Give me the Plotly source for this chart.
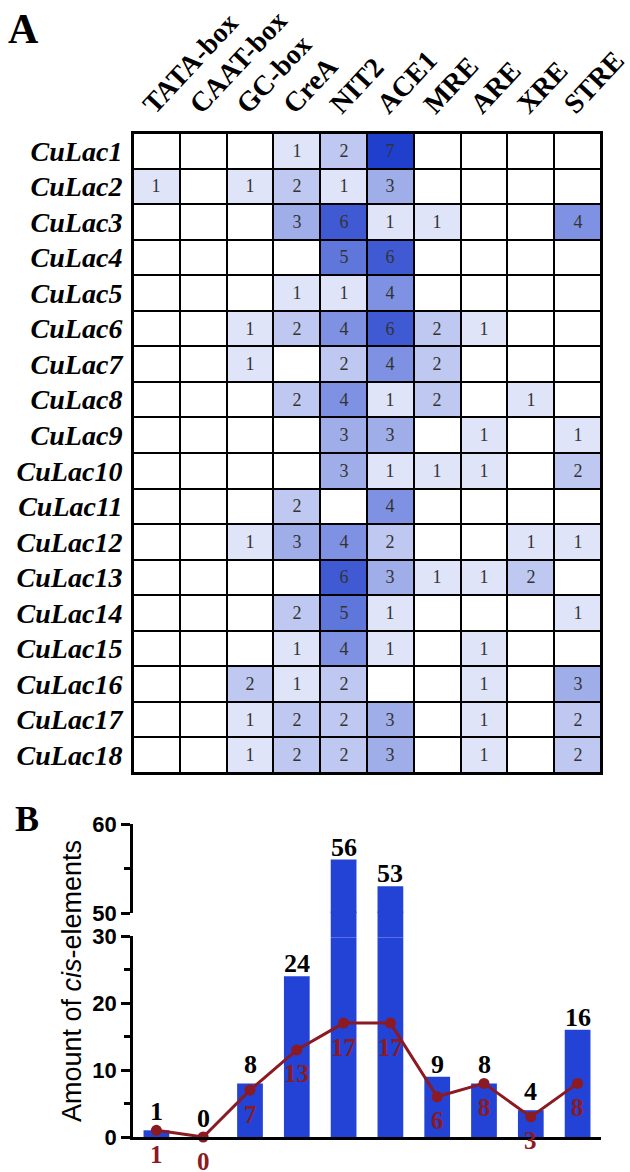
import plotly.graph_objects as go

elements = ["TATA-box", "CAAT-box", "GC-box", "CreA", "NIT2", "ACE1", "MRE", "ARE", "XRE", "STRE"]
genes = [f"CuLac{i}" for i in range(1, 19)]

counts = [
    [0, 0, 0, 1, 2, 7, 0, 0, 0, 0],
    [1, 0, 1, 2, 1, 3, 0, 0, 0, 0],
    [0, 0, 0, 3, 6, 1, 1, 0, 0, 4],
    [0, 0, 0, 0, 5, 6, 0, 0, 0, 0],
    [0, 0, 0, 1, 1, 4, 0, 0, 0, 0],
    [0, 0, 1, 2, 4, 6, 2, 1, 0, 0],
    [0, 0, 1, 0, 2, 4, 2, 0, 0, 0],
    [0, 0, 0, 2, 4, 1, 2, 0, 1, 0],
    [0, 0, 0, 0, 3, 3, 0, 1, 0, 1],
    [0, 0, 0, 0, 3, 1, 1, 1, 0, 2],
    [0, 0, 0, 2, 0, 4, 0, 0, 0, 0],
    [0, 0, 1, 3, 4, 2, 0, 0, 1, 1],
    [0, 0, 0, 0, 6, 3, 1, 1, 2, 0],
    [0, 0, 0, 2, 5, 1, 0, 0, 0, 1],
    [0, 0, 0, 1, 4, 1, 0, 1, 0, 0],
    [0, 0, 2, 1, 2, 0, 0, 1, 0, 3],
    [0, 0, 1, 2, 2, 3, 0, 1, 0, 2],
    [0, 0, 1, 2, 2, 3, 0, 1, 0, 2],
]

total_elements = [1, 0, 8, 24, 56, 53, 9, 8, 4, 16]
genes_with_element = [1, 0, 7, 13, 17, 17, 6, 8, 3, 8]

W, H = 630, 1172
BAR_BLUE = "#2343d6"
DARK_RED = "#8b1a22"
SERIF = "Liberation Serif"
SANS = "Liberation Sans"

def px_x(p):
    return p / W

def px_y(p):
    return 1 - p / H

fig = go.Figure()

cell_text = [[("" if v == 0 else str(v)) for v in row] for row in counts]
fig.add_trace(go.Heatmap(
    z=counts, x=elements, y=genes, text=cell_text, texttemplate="%{text}",
    textfont=dict(family=SERIF, size=18, color="#333333"),
    colorscale=[[0, "#ffffff"], [1, "#1f3fcc"]], zmin=0, zmax=7,
    showscale=False, xgap=2, ygap=2, xaxis="x", yaxis="y", hoverinfo="skip",
))

xs = list(range(len(elements)))
for ya in ["y2", "y3", "y4"]:
    fig.add_trace(go.Bar(
        x=xs, y=total_elements, width=0.55, marker=dict(color=BAR_BLUE, line=dict(width=0)),
        xaxis="x2", yaxis=ya, showlegend=False, hoverinfo="skip",
    ))

fig.add_trace(go.Scatter(
    x=xs, y=genes_with_element, mode="lines+markers",
    line=dict(color=DARK_RED, width=3), marker=dict(color=DARK_RED, size=11),
    xaxis="x2", yaxis="y2", cliponaxis=False, showlegend=False, hoverinfo="skip",
))

annotations = []
for i, (v, g) in enumerate(zip(total_elements, genes_with_element)):
    ya = "y4" if v > 30 else "y2"
    shift = 6 if g >= v - 1 else 0
    annotations.append(dict(
        x=i, y=v, xref="x2", yref=ya, text=f"<b>{v}</b>", showarrow=False,
        yanchor="bottom", yshift=shift - 4,
        font=dict(family=SERIF, size=26, color="black"),
    ))
    annotations.append(dict(
        x=i, y=g, xref="x2", yref="y2", text=f"<b>{g}</b>", showarrow=False,
        yanchor="middle", yshift=-24,
        font=dict(family=SERIF, size=25, color=DARK_RED),
    ))

annotations += [
    dict(x=px_x(72), y=px_y(981), xref="paper", yref="paper", text="Amount of <i>cis</i>-elements",
         textangle=-90, showarrow=False, font=dict(family=SANS, size=27, color="black"),
         xanchor="center", yanchor="middle"),
    dict(x=px_x(23), y=px_y(29), xref="paper", yref="paper", text="<b>A</b>", showarrow=False,
         font=dict(family=SERIF, size=42, color="black"), xanchor="center", yanchor="middle"),
    dict(x=px_x(27), y=px_y(819), xref="paper", yref="paper", text="<b>B</b>", showarrow=False,
         font=dict(family=SERIF, size=36, color="black"), xanchor="center", yanchor="middle"),
]

xdom = [px_x(133), px_x(601)]
ytick_font = dict(family=SANS, size=22, color="black", weight="bold")

fig.update_layout(
    width=W, height=H, margin=dict(l=0, r=0, t=0, b=0, autoexpand=False),
    paper_bgcolor="white", plot_bgcolor="white",
    xaxis=dict(domain=xdom, anchor="y", side="top", tickangle=-47, automargin=False,
               ticks="", ticklabelshift=-12,
               showline=True, mirror=True, linecolor="black", linewidth=2,
               tickfont=dict(family=SERIF, size=28, color="black", weight="bold"),
               showgrid=False, zeroline=False, fixedrange=True),
    yaxis=dict(domain=[px_y(773), px_y(133)], anchor="x", autorange="reversed", automargin=False,
               ticks="outside", ticklen=3, tickcolor="rgba(0,0,0,0)",
               showline=True, mirror=True, linecolor="black", linewidth=2,
               tickfont=dict(family=SERIF, size=28, color="black", weight="bold", style="italic"),
               showgrid=False, zeroline=False),
    xaxis2=dict(domain=xdom, anchor="y2", range=[-0.5, 9.5], showticklabels=False, ticks="",
                automargin=False,
                showline=True, linecolor="black", linewidth=3, showgrid=False, zeroline=False),
    yaxis2=dict(domain=[px_y(1137), px_y(936)], anchor="x2", range=[0, 30], automargin=False,
                tickvals=[0, 10, 20, 30], ticks="outside", ticklen=9, tickwidth=2.5, tickcolor="black",
                minor=dict(tickvals=[5, 15, 25], ticks="outside", ticklen=6, tickwidth=2.5, tickcolor="black"),
                showline=True, linecolor="black", linewidth=2.5, tickfont=ytick_font,
                showgrid=False, zeroline=False),
    yaxis3=dict(domain=[px_y(937.5), px_y(911.5)], anchor="x2", range=[30 - 1.5 / 6.7, 50 + 1.5 / 8.9],
                automargin=False, visible=False, showgrid=False, zeroline=False),
    yaxis4=dict(domain=[px_y(913), px_y(824)], anchor="x2", range=[50, 60], automargin=False,
                tickvals=[50, 60], ticks="outside", ticklen=9, tickwidth=2.5, tickcolor="black",
                minor=dict(tickvals=[55], ticks="outside", ticklen=6, tickwidth=2.5, tickcolor="black"),
                showline=True, linecolor="black", linewidth=2.5, tickfont=ytick_font,
                showgrid=False, zeroline=False),
    shapes=[dict(type="rect", xref="x domain", yref="y domain", x0=0, x1=1, y0=0, y1=1,
                 fillcolor="black", line=dict(width=0), layer="below")],
    annotations=annotations,
)

fig.write_html(
    "out.html",
    config={"displayModeBar": False},
    post_script="document.body.style.margin='0';document.body.style.overflow='hidden';",
)
